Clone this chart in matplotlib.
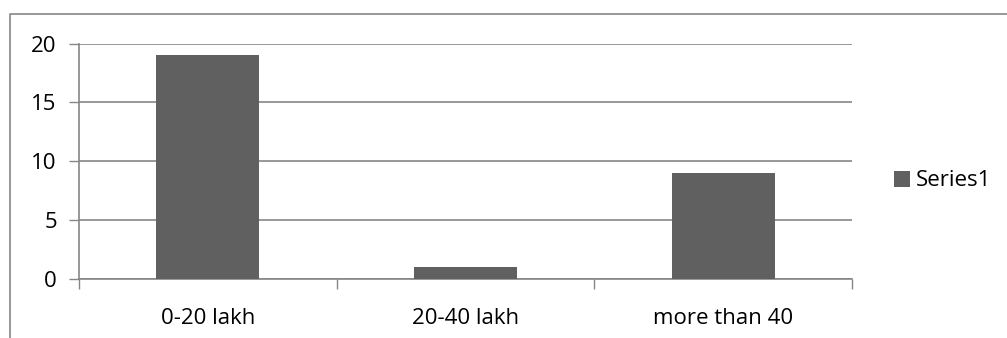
import numpy as np
import matplotlib.pyplot as plt
from matplotlib.lines import Line2D

# data
categories = ['0-20 lakh', '20-40 lakh', 'more than 40']
values = [19, 1, 9]
yticks = [0, 5, 10, 15, 20]
series_name = 'Series1'

plt.rcParams['font.family'] = ['Open Sans', 'DejaVu Sans']

W, H = 1007, 338
fig = plt.figure(figsize=(W / 100, H / 100), dpi=100)
ax = fig.add_axes([79 / W, 1 - 279 / H, (852 - 79) / W, (279 - 43.5) / H])

grid_c = '#868686'
bar_c = '#606060'
fs = 16

x = np.arange(len(categories)) + 0.5
ax.bar(x, values, width=0.4, color=bar_c, zorder=3, label=series_name)

ax.set_xlim(0, len(categories))
ax.set_ylim(0, 20)
ax.set_yticks(yticks)
ax.set_xticks(np.arange(len(categories) + 1))
ax.set_xticklabels([])
ax.set_xticks(x, minor=True)
ax.set_xticklabels(categories, minor=True)
ax.tick_params(axis='x', which='major', length=7, color=grid_c, width=1)
ax.tick_params(axis='x', which='minor', length=0, pad=21, labelsize=fs)
ax.tick_params(axis='y', length=7, color=grid_c, width=1, pad=9, labelsize=fs)

ax.yaxis.grid(True, color=grid_c, linewidth=1.2, zorder=0)
ax.set_axisbelow(True)
for s in ['top', 'right']:
    ax.spines[s].set_visible(False)
ax.spines['left'].set_color(grid_c)
ax.spines['bottom'].set_color(grid_c)
ax.spines['left'].set_linewidth(1.2)
ax.spines['bottom'].set_linewidth(1.2)

leg = fig.legend(loc='center left', bbox_to_anchor=(894 / W, 1 - 181 / H),
                 frameon=False, fontsize=fs, handlelength=0.7, handleheight=0.7,
                 handletextpad=0.3, borderpad=0, borderaxespad=0)

# outer chart border
bx, by = 10 / W, 1 - 14 / H
fig.add_artist(Line2D([bx, bx, 1], [0, by, by], transform=fig.transFigure,
                      color=grid_c, linewidth=1.2))

fig.savefig('out.png', dpi=100)
